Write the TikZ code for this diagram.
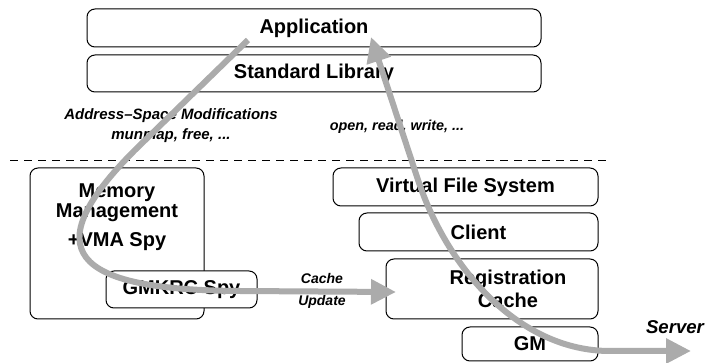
\documentclass[tikz,border=0pt]{standalone}
\usepackage{fontspec}
\setmainfont{Liberation Sans}
\usetikzlibrary{arrows.meta}

\begin{document}
\begin{tikzpicture}
[x=1pt,y=-1pt,
  layerdecorate/.style={shape=rectangle,rounded corners=8pt,draw,line width=1pt,fill=white,
    font=\fontsize{20}{20}\selectfont\bfseries},%
  textdecorate/.style={align=center,font=\fontsize{20}{20}\selectfont\bfseries},%
  notedecorate/.style={align=center,font=\fontsize{15}{20}\selectfont\bfseries\itshape},%
  flowdecorate/.style={line width=6pt,draw=black!33,-{Triangle[length=25pt,width=24pt]}}]
\useasboundingbox (0,0) rectangle (707,363);
%% layers or boxes
\foreach \nodename/\x/\y/\w/\h/\txt in {
  app/314/28/454/38/Application, stdlib/314/73.5/454/37/Standard Library,
  mm/117/243.5/174/151/{}, spy/181.5/289.5/151/37/GMKRC Spy,
  vfs/465.5/187/265/38/Virtual File System, client/478.5/232/239/38/Client,
  regcache/492/289/212/60/{}, gm/530/344/136/34/GM}
{
  \node (\nodename) at (\x,\y) [layerdecorate,minimum width=\w pt,minimum height=\h pt] {\txt};
}
\node (mmtext) at (117,217) [textdecorate] {Memory\\Management\\[9pt]+VMA Spy};
\node (regtext) at ([xshift=16pt]regcache.center) [textdecorate,font=\fontsize{20}{23}\selectfont\bfseries] {Registration\\Cache};
%% labels
\node (asmnote) at (171,126) [notedecorate] {Address--Space Modifications\\munmap, free, ...};
\node (sysnote) at (397,127) [notedecorate,font=\fontsize{14.4}{20}\selectfont\bfseries\itshape] {open, read, write, ...};
\node (cachenote) at (322,291) [notedecorate,font=\fontsize{14}{22}\selectfont\bfseries\itshape] {Cache\\Update};
\node (server) at (675,327) [notedecorate,font=\fontsize{18.6}{20}\selectfont\bfseries\itshape] {Server};
%% kernel boundary
\coordinate (dashleft) at (10,161);
\coordinate (dashright) at (608,161);
\draw[line width=1pt,dash pattern=on 8pt off 6pt] (dashleft) -- (dashright);
%% flows
\coordinate (asmstart) at (248,40);
\coordinate (asmend) at (396,292);
\coordinate (apptip) at (371,37);
\coordinate (servertip) at (691,351);
\draw[flowdecorate] (asmstart) -- (135,150) .. controls (35,250) and (70,290) .. (240,291) -- (asmend);
\draw[flowdecorate,{Triangle[length=25pt,width=24pt]}-{Triangle[length=25pt,width=24pt]}]
  (apptip) -- (418,180) .. controls (448,270) and (520,351) .. (610,351) -- (servertip);
\end{tikzpicture}
\end{document}
